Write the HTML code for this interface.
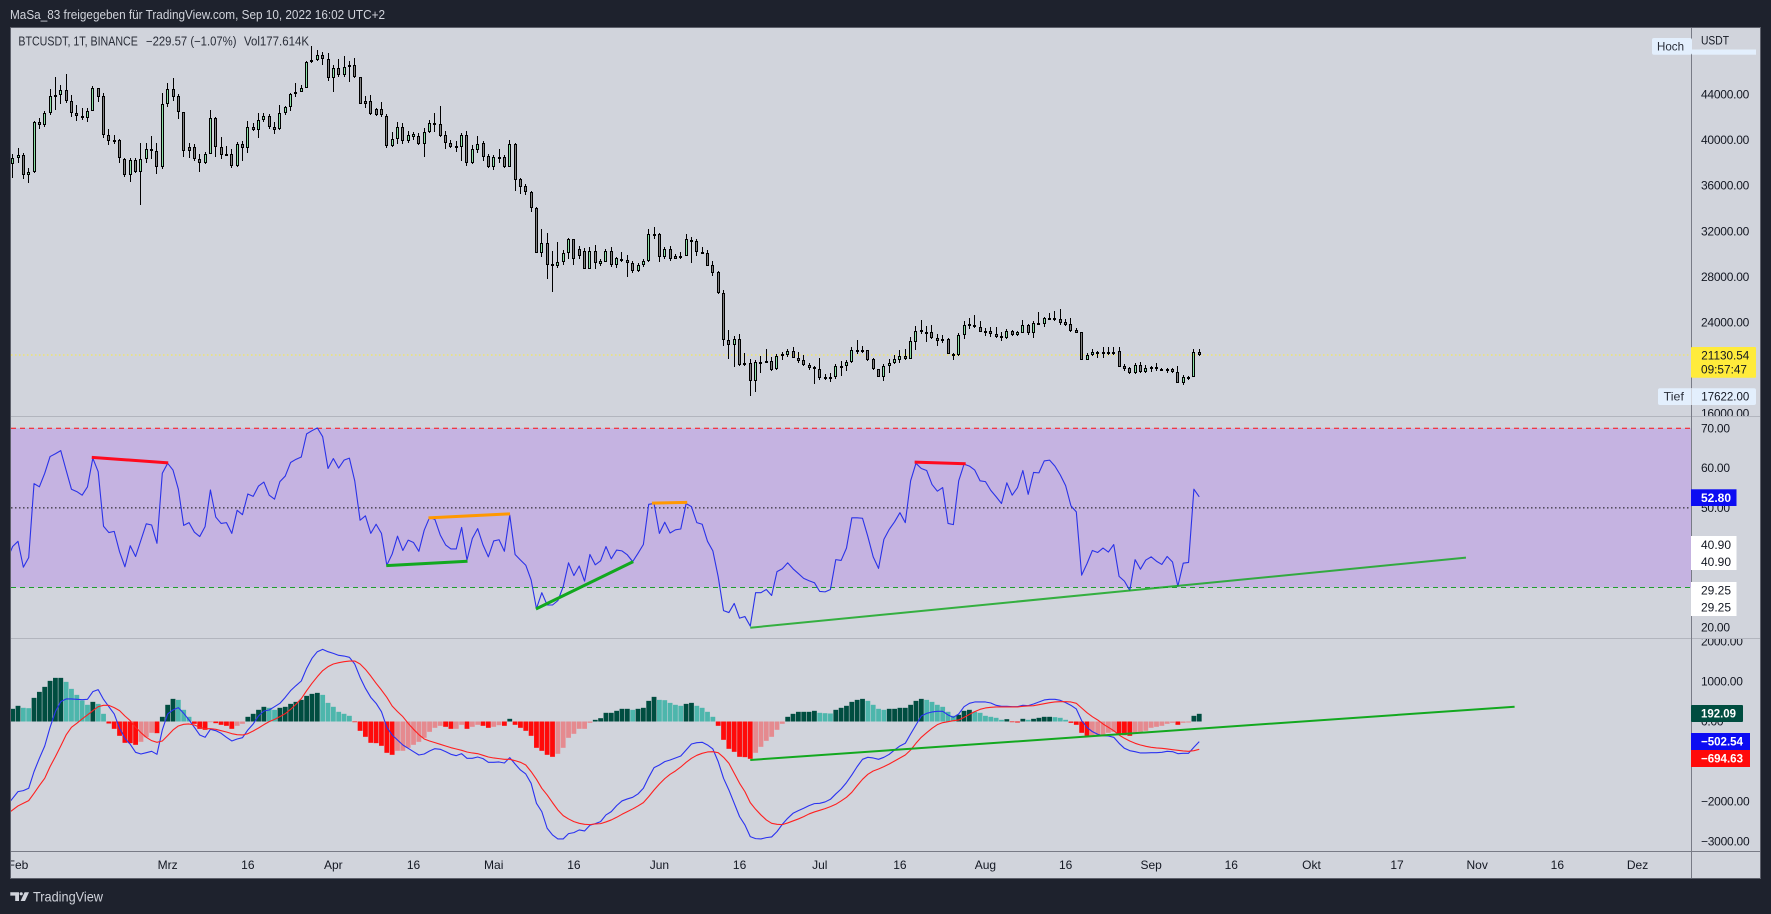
<!DOCTYPE html>
<html lang="de">
<head>
<meta charset="utf-8">
<title>BTCUSDT chart</title>
<style>
html,body{margin:0;padding:0;background:#1e222d;}
svg{display:block;}
text{font-family:"Liberation Sans",sans-serif;}
.ax{font-size:12px;fill:#131722;letter-spacing:-0.25px;}
.tm{font-size:12px;fill:#131722;}
.lb{font-size:12px;}
</style>
</head>
<body>
<svg id="chart" xmlns="http://www.w3.org/2000/svg" width="1771" height="914" viewBox="0 0 1771 914">
  <defs>
    <clipPath id="clip-main"><rect x="11" y="28" width="1680" height="823"/></clipPath>
    <clipPath id="clip-ax-price"><rect x="1692" y="50" width="68" height="366"/></clipPath>
    <clipPath id="clip-ax-rsi"><rect x="1692" y="417" width="68" height="221"/></clipPath>
    <clipPath id="clip-ax-macd"><rect x="1692" y="639" width="68" height="212"/></clipPath>
    <clipPath id="clip-time"><rect x="11" y="852" width="1680" height="27"/></clipPath>
  </defs>
  <rect x="0" y="0" width="1771" height="914" fill="#1e222d"/>
  <text x="10" y="15" dominant-baseline="central" font-size="12.5" fill="#d1d4dc" textLength="375" lengthAdjust="spacingAndGlyphs">MaSa_83 freigegeben für TradingView.com, Sep 10, 2022 16:02 UTC+2</text>
  <rect x="10.5" y="27.5" width="1750" height="851" fill="#d1d4dc" stroke="#5d606b" stroke-width="1"/>
  <g id="plots" clip-path="url(#clip-main)"></g>
  <line x1="11" x2="1760" y1="416.5" y2="416.5" stroke="#b2b5be"/>
  <line x1="11" x2="1760" y1="638.5" y2="638.5" stroke="#b2b5be"/>
  <line x1="11" x2="1760" y1="851.5" y2="851.5" stroke="#787b86"/>
  <line x1="1691.5" x2="1691.5" y1="28" y2="878" stroke="#787b86"/>
  <g id="axes"></g>

  <text x="18.4" y="41.5" dominant-baseline="central" font-size="12.5" fill="#2a2e39" textLength="119.4" lengthAdjust="spacingAndGlyphs">BTCUSDT, 1T, BINANCE</text>
  <text x="146" y="41.5" dominant-baseline="central" font-size="12.5" fill="#2a2e39" textLength="90.5" lengthAdjust="spacingAndGlyphs">−229.57 (−1.07%)</text>
  <text x="244" y="41.5" dominant-baseline="central" font-size="12.5" fill="#2a2e39" textLength="65" lengthAdjust="spacingAndGlyphs">Vol177.614K</text>

  <g>
    <rect x="1652" y="38" width="40" height="16.7" rx="2" fill="#e3effd"/>
    <rect x="1692" y="49.5" width="64" height="5.2" fill="#e3effd"/>
    <text class="lb" x="1657" y="46.7" dominant-baseline="central" fill="#2a2e39" textLength="27" lengthAdjust="spacingAndGlyphs">Hoch</text>
  </g>
  <text class="lb" x="1701" y="40.7" dominant-baseline="central" fill="#131722" textLength="28" lengthAdjust="spacingAndGlyphs">USDT</text>

  <g>
    <rect x="1658" y="388.3" width="98" height="16.7" rx="2" fill="#e3effd"/>
    <line x1="1691.5" x2="1691.5" y1="388.3" y2="405" stroke="#d1d4dc"/>
    <text class="lb" x="1663.7" y="396.7" dominant-baseline="central" fill="#2a2e39" textLength="20.2" lengthAdjust="spacingAndGlyphs">Tief</text>
    <text class="lb" x="1701.3" y="396.7" dominant-baseline="central" fill="#131722" textLength="48" lengthAdjust="spacingAndGlyphs">17622.00</text>
  </g>
  <g>
    <rect x="1691" y="347" width="65" height="30.7" rx="1" fill="#ffeb3b"/>
    <text class="lb" x="1701.3" y="355.7" dominant-baseline="central" fill="#131722" textLength="48" lengthAdjust="spacingAndGlyphs">21130.54</text>
    <text class="lb" x="1701" y="369.3" dominant-baseline="central" fill="#131722" textLength="46" lengthAdjust="spacingAndGlyphs">09:57:47</text>
  </g>
  <g>
    <rect x="1691" y="489.3" width="45.5" height="16.7" fill="#0c0cf2"/>
    <text class="lb" x="1701" y="497.8" dominant-baseline="central" fill="#ffffff" font-weight="bold" textLength="30" lengthAdjust="spacingAndGlyphs">52.80</text>
  </g>
  <g>
    <rect x="1691" y="536" width="45.5" height="34" fill="#ffffff"/>
    <text class="lb" x="1701" y="545" dominant-baseline="central" fill="#131722" textLength="30" lengthAdjust="spacingAndGlyphs">40.90</text>
    <text class="lb" x="1701" y="562" dominant-baseline="central" fill="#131722" textLength="30" lengthAdjust="spacingAndGlyphs">40.90</text>
  </g>
  <g>
    <rect x="1691" y="582" width="45.5" height="34" fill="#ffffff"/>
    <text class="lb" x="1701" y="590.7" dominant-baseline="central" fill="#131722" textLength="30" lengthAdjust="spacingAndGlyphs">29.25</text>
    <text class="lb" x="1701" y="607.7" dominant-baseline="central" fill="#131722" textLength="30" lengthAdjust="spacingAndGlyphs">29.25</text>
  </g>
  <g>
    <rect x="1691" y="705" width="52" height="17" rx="1" fill="#004d40"/>
    <text class="lb" x="1701" y="713.5" dominant-baseline="central" fill="#ffffff" font-weight="bold" textLength="35" lengthAdjust="spacingAndGlyphs">192.09</text>
  </g>
  <g>
    <rect x="1691" y="733" width="59" height="17" fill="#0c0cf2"/>
    <text class="lb" x="1701" y="741.5" dominant-baseline="central" fill="#ffffff" font-weight="bold" textLength="42" lengthAdjust="spacingAndGlyphs">−502.54</text>
  </g>
  <g>
    <rect x="1691" y="750" width="59" height="17" fill="#ff0a0a"/>
    <text class="lb" x="1701" y="758.5" dominant-baseline="central" fill="#ffffff" font-weight="bold" textLength="42" lengthAdjust="spacingAndGlyphs">−694.63</text>
  </g>

  <g fill="#d1d4dc">
    <path d="M10.3 892.2H19V901H15.2V895.6H10.3Z"/>
    <circle cx="21.2" cy="893.8" r="1.6"/>
    <path d="M24.6 892.2H29L25 901H20.6Z"/>
  </g>
  <text x="33" y="896.7" dominant-baseline="central" font-size="14" fill="#d1d4dc" textLength="70" lengthAdjust="spacingAndGlyphs">TradingView</text>
</svg>

<script>
// ---- Candles: first entry is 31 Jan 2022 ----
const candleStartDay = -1;
const opens = [
37880,38470,38670,36910,37240,41570,41370,42360,43860,44000,
44380,43480,42360,42160,41980,42540,44560,43860,40490,40050,
40050,38380,36970,38230,37240,38320,39200,39080,37680,43150,
44470,43860,42450,39370,39370,38380,37970,38760,41950,39370,
38760,38760,37760,39640,39290,41130,40930,41750,42160,41190,
40950,42360,42890,44030,44270,44560,46870,47050,47460,47110,
45470,46320,45760,46400,46580,45530,43420,43420,42710,42710,
42160,39520,40080,41130,39930,40310,40370,39640,40750,41510,
41400,40430,39730,39490,39430,40460,38030,39170,39780,38610,
37620,38500,38520,37680,39640,36590,35950,35420,34040,30060,
30940,29090,28980,29270,30060,31290,30470,30300,28660,30290,
29120,29330,30240,29070,29590,29500,29180,28540,29010,29420,
31790,31760,29770,30410,29800,29770,29860,31260,31110,30150,
30060,29010,28420,26550,22420,22040,22500,20400,20400,18870,
20480,20630,20630,19870,21010,21160,21480,20890,20660,20220,
20040,19870,19220,19220,19220,20130,20130,20480,21540,21510,
21540,20750,19870,19220,20160,20450,20690,21070,20750,22300,
23290,23150,23120,22590,22500,22500,21240,21130,22890,23730,
23730,23560,23210,23210,22940,22800,22590,23210,22860,23090,
23730,23090,23940,23880,24380,24350,24260,24030,23820,23290,
23110,20720,21100,21420,21390,21420,21240,21480,20160,19980,
19520,20250,19630,20070,19870,19870,19900,19930,19660,18700,19190,19220,21360];
const highs = [
38760,39290,38850,37530,41720,41920,42600,44470,45530,44850,
45820,43970,43070,42800,42800,44760,44600,44180,40960,40460,
40080,38400,38410,38410,39790,39730,40370,39790,44120,45000,
45440,44060,42510,39730,39670,38790,39000,42660,42010,40310,
39490,39200,39870,39950,41660,41510,42390,42360,42300,41570,
43100,43040,44120,45000,44850,46990,48280,47930,47720,47640,
46610,47110,47430,46930,47200,45550,43920,43970,42800,43390,
42270,40690,41570,41480,40840,40750,40600,41040,41780,42360,
43010,40780,40020,39900,40660,40810,39580,40370,39930,38790,
38700,39260,38700,40020,39790,36680,36120,35510,34160,32200,
31820,30270,31030,30350,31380,31320,30730,30500,30650,30790,
29530,30410,30590,29770,30150,29890,29390,29180,29530,32200,
32350,31880,30650,30710,30000,30210,31760,31530,31290,30650,
30350,29360,28510,26840,23320,22800,22940,21270,20780,20690,
21040,21620,20980,21190,21420,21630,21830,21420,21100,20400,
20160,20830,19430,19570,20310,20630,20690,21860,22450,21920,
21570,20830,19930,20340,20750,21130,21570,21630,22680,23680,
24200,23680,23730,22940,22880,22590,21270,23030,24140,24410,
24640,24140,23470,23620,23620,23180,23380,23320,23240,24200,
23850,24120,24910,24500,24850,24960,25200,24260,24380,23470,
23120,21330,21630,21480,21860,21800,21860,21860,20310,20100,
20450,20510,20250,20160,20400,19990,20010,20010,20190,19370,19310,21630,21630];
const lows = [
36710,38030,36590,36270,37090,40960,41190,42220,42660,43180,
43240,42010,41720,41780,41600,42530,43390,40170,39550,39670,
38030,36800,36360,37150,34310,37970,38320,37030,37500,42890,
43450,41890,38560,38410,38200,37210,37950,38750,38500,38350,
38700,37590,37620,38200,38910,40840,40220,41570,40960,40520,
40940,42220,42600,43830,44210,44550,46760,46960,46640,45230,
44270,45580,45580,45150,45440,43140,42800,42190,42130,42010,
39290,39370,39640,39670,39790,40020,39580,38560,40600,40750,
40310,39260,39290,38990,38170,37730,37910,38910,38200,37560,
37380,37970,37590,37670,35540,35300,35190,33720,30050,29770,
27830,26690,28740,29040,29530,29040,29530,28650,28640,28650,
28950,29270,28890,28740,29330,28010,28300,28450,28890,29330,
31290,29330,29560,29360,29530,29560,29850,29240,29860,29970,
28920,28100,26510,21950,20800,20100,20190,20190,17550,17900,
19570,20400,19750,19810,20690,20920,20830,20450,20160,19810,
18580,18930,18930,18780,19050,19280,19750,20450,21220,21300,
20630,19810,19190,18870,19570,20340,20450,20690,20740,21570,
22940,22300,22500,21950,22210,21210,20690,21040,22530,23440,
23470,23120,22830,22680,22620,22360,22530,22800,22800,23060,
22910,22650,23850,23590,24310,24140,23760,23680,23150,23080,
20710,20700,21040,20890,20890,21160,21160,20090,19720,19460,
19460,19520,19570,19630,19720,19690,19570,19570,18640,18490,18930,19210,21040];
const closes = [
38470,38670,36910,37240,41570,41370,42360,43860,44000,44380,
43480,42360,42160,41980,42540,44560,43830,40490,39960,39930,
38410,36970,38230,37240,38320,39200,39080,37680,43150,44470,
43800,42450,39080,39080,38380,37970,38760,41920,39370,38730,
38730,37760,39640,39290,41130,40930,41750,42160,41190,40900,
42360,42890,44030,44270,44560,46870,47050,47460,47110,45470,
46320,45760,46400,46580,45530,43150,43150,42270,42250,42190,
39520,40080,41130,39930,40490,40520,39640,40750,41510,41340,
40400,39730,39430,39430,40460,38030,39200,39700,38560,37620,
38500,38550,37680,39640,36500,35920,35420,34020,30060,30940,
29040,28980,29270,30060,31320,29530,29830,28660,30290,29210,
29390,30270,29040,29650,29500,29180,28540,29010,29420,31760,
31730,29770,30410,29590,29590,29860,31290,31110,30150,30060,
28980,28360,26550,22420,22040,22500,20280,20280,18870,20480,
20450,20450,19810,21040,21190,21480,20890,20600,20220,19960,
19870,19080,19080,19110,20130,20190,20480,21540,21480,21570,
20690,19870,19220,20160,20450,20750,21070,20750,22330,23270,
23120,23090,22590,22360,22390,21240,21160,22890,23730,23820,
23560,23180,23150,22940,22740,22590,23210,22860,23120,23730,
23090,23910,23880,24350,24320,24230,23910,23790,23240,23090,
20720,21100,21420,21330,21330,21240,21420,20100,19900,19520,
20250,19630,19950,19870,20040,19750,19720,19630,18700,19220,19170,21360,21130];
const lastPrice = 21130.54;

// ---- RSI: first entry is 30 Jan 2022 ----
const rsiStartDay = -2;
const rsiValues = [37.2,
40.3,41.6,35.1,37.5,56.1,55.3,58.7,62.9,63.6,64.4,
59.5,54.7,54.1,53.2,55.3,62.5,59.1,45.4,43.8,44.1,
39.0,35.2,40.5,37.8,41.9,46.0,45.7,41.1,58.7,61.2,
59.5,54.7,45.6,46.3,43.9,42.8,45.3,54.5,47.7,46.1,
46.3,43.6,49.4,48.3,53.5,52.9,55.5,56.5,53.2,52.2,
56.6,58.0,61.4,62.2,62.8,68.6,69.4,70.1,67.9,59.9,
62.4,60.0,62.0,62.5,56.8,46.9,48.0,43.6,45.9,43.6,
35.6,38.4,42.9,39.3,41.9,41.3,39.1,44.4,47.6,47.1,
43.2,40.7,39.7,39.7,45.1,36.9,42.3,44.8,40.7,37.7,
41.7,42.0,39.1,48.2,38.3,36.9,35.6,31.9,24.7,28.7,
25.6,25.6,26.7,30.2,36.2,33.0,35.4,31.6,38.3,35.7,
36.7,40.3,37.2,39.4,39.2,38.2,36.5,38.6,40.8,50.9,
51.1,43.6,46.4,43.7,44.5,44.7,51.1,50.3,46.3,45.9,
41.6,39.2,32.7,24.2,23.7,26.0,22.3,22.7,20.3,28.7,
28.7,29.5,28.0,34.0,34.7,36.2,34.7,33.5,32.3,31.7,
31.2,29.0,28.9,29.5,37.0,36.8,39.9,47.5,47.5,47.4,
42.8,37.7,34.8,42.1,44.6,46.5,48.8,46.3,56.8,61.2,
59.9,59.4,55.9,54.2,55.1,46.1,45.8,56.8,61.0,60.5,
59.5,56.8,56.6,54.4,52.8,51.1,56.3,53.2,55.1,59.4,
53.4,58.9,58.8,61.8,62.0,60.5,58.3,55.6,50.5,49.0,
33.1,36.0,39.3,38.8,39.9,38.9,40.8,32.8,31.6,29.3,
37.0,34.6,36.9,37.7,36.6,35.8,37.8,36.4,30.3,36.1,36.3,54.7,52.8];

// ---- MACD line and signal: first entry is 30 Jan 2022 ----
const macdStartDay = -2;
const macdLine = [-2086,
-1920,-1753,-1728,-1670,-1253,-920,-612,-145,246,496,
563,563,554,546,554,746,796,554,371,188,
-170,-420,-570,-770,-812,-779,-745,-820,-212,188,
288,346,204,38,-145,-337,-395,-195,-229,-295,
-395,-487,-437,-404,-212,-62,138,263,288,371,
454,604,771,896,1012,1329,1579,1745,1804,1745,
1704,1654,1637,1604,1437,1104,829,604,454,246,
-145,-337,-462,-587,-670,-754,-837,-812,-737,-679,
-695,-754,-820,-854,-804,-920,-920,-887,-928,-1020,
-1020,-1012,-1037,-904,-1062,-1212,-1312,-1545,-2045,-2253,
-2669,-2836,-2936,-2936,-2803,-2778,-2711,-2736,-2594,-2553,
-2503,-2336,-2253,-2103,-1986,-1936,-1895,-1811,-1670,-1395,
-1153,-1087,-1003,-962,-912,-862,-712,-562,-529,-520,
-587,-687,-1003,-1420,-1712,-2045,-2378,-2586,-2878,-2928,
-2936,-2903,-2886,-2753,-2570,-2420,-2295,-2228,-2170,-2103,
-2053,-2045,-2011,-1945,-1811,-1687,-1528,-1337,-1128,-945,
-895,-912,-945,-895,-820,-712,-612,-545,-312,-87,
138,204,238,254,254,163,104,188,371,454,
488,488,488,463,404,379,379,371,371,404,
396,438,488,538,554,554,529,471,404,313,
21,-145,-254,-320,-354,-362,-395,-545,-670,-729,
-754,-787,-787,-779,-779,-770,-745,-754,-804,-795,-795,-645,-502.5];
const macdSignal = [-2311,
-2211,-2111,-2045,-1978,-1795,-1603,-1420,-1128,-878,-612,
-337,-145,-46,63,163,271,371,404,404,346,
271,138,21,-145,-279,-395,-479,-520,-487,-354,
-212,-112,-70,-62,-87,-145,-179,-179,-195,-229,
-262,-304,-329,-337,-304,-237,-162,-79,-4,54,
121,196,304,429,571,771,954,1121,1271,1371,
1437,1471,1496,1512,1512,1437,1304,1137,954,787,
604,388,246,121,-46,-195,-329,-437,-487,-529,
-570,-612,-654,-687,-720,-762,-787,-804,-845,-887,
-912,-928,-945,-945,-979,-1020,-1087,-1253,-1445,-1670,
-1836,-2028,-2211,-2353,-2436,-2503,-2545,-2570,-2578,-2561,
-2553,-2511,-2461,-2395,-2320,-2253,-2186,-2111,-2028,-1878,
-1712,-1562,-1428,-1320,-1237,-1137,-1020,-920,-845,-795,
-762,-754,-779,-895,-1045,-1295,-1545,-1753,-2028,-2195,
-2336,-2461,-2545,-2570,-2578,-2536,-2486,-2436,-2378,-2311,
-2261,-2220,-2178,-2128,-2070,-1986,-1895,-1770,-1603,-1445,
-1320,-1237,-1187,-1128,-1062,-987,-912,-837,-712,-545,
-395,-279,-170,-79,-29,-4,21,38,104,179,
246,304,338,354,363,363,363,363,363,379,
388,396,421,446,471,488,496,496,488,454,
338,221,121,38,-62,-145,-229,-337,-420,-487,
-545,-587,-620,-645,-662,-670,-687,-704,-720,-737,-745,-729,-694.6];

// ---- MACD histogram: first entry is 31 Jan 2022 ----
const histStartDay = -1;
const histValues = [
317,392,342,333,591,741,866,1016,1091,1091,
991,816,666,525,417,491,441,192,-50,-183,
-358,-533,-541,-583,-508,-392,-283,-292,117,417,
566,541,292,117,-58,-183,-208,-17,-42,-83,
-108,-183,-108,-58,117,192,292,367,342,292,
342,367,441,491,541,641,691,716,666,466,
367,242,192,142,-17,-233,-383,-533,-541,-608,
-783,-833,-733,-733,-658,-583,-508,-408,-258,-158,
-108,-133,-183,-183,-83,-183,-133,-83,-108,-158,
-133,-92,-108,67,-83,-158,-233,-358,-658,-733,
-833,-883,-808,-658,-408,-308,-183,-183,-33,42,
83,217,217,267,317,317,292,317,342,516,
616,541,533,466,417,392,441,466,392,342,
242,117,-108,-458,-683,-758,-883,-891,-933,-783,
-633,-483,-383,-208,-58,117,192,242,242,242,
267,217,208,200,292,342,392,491,541,566,
516,417,317,292,317,317,342,342,417,516,
566,541,491,417,367,242,142,167,267,292,
242,217,142,117,92,42,58,-17,-25,67,
42,67,92,117,117,108,92,42,-33,-83,
-283,-358,-358,-358,-333,-283,-258,-333,-342,-358,
-308,-258,-233,-158,-133,-108,-58,-33,-83,-33,-25,142,192.09];

// ---- Axis ticks ----
const priceTicks = [44000,40000,36000,32000,28000,24000,20000,16000];
const rsiTicks = [70,60,50,40,30,20];
const macdTicks = [2000,1000,0,-1000,-2000,-3000];
const timeLabels = ['Feb','Mrz','16','Apr','16','Mai','16','Jun','16','Jul','16','Aug','16','Sep','16','Okt','17','Nov','16','Dez'];
const timeDays = [0,28,43,59,74,89,104,120,135,150,165,181,196,212,227,242,258,273,288,303];

// ---- Drawn trend lines [day, value, day, value] ----
const rsiBearLines = [[13.8,62.7,28.1,61.3],[167.75,61.5,177.3,61.1]];
const rsiHiddenLines = [[76.8,47.5,92.05,48.5],[118.6,51.2,125.2,51.4]];
const rsiBullLines = [[68.9,35.5,84.1,36.6],[96.9,24.6,115.1,36.5]];
const rsiLongLine = [137.0,19.9,270.9,37.5];
const macdLongLine = [137.0,-962,280.0,370];

// ---- Scales ----
const xDay = d => 18 + 5.345 * d;
const yPrice = p => 94.7 + (44000 - p) * 0.01138;
const yRsi = r => 428.3 + (70 - r) * 3.98;
const yMacd = m => 721.5 - m * 0.04;

const NS = 'http://www.w3.org/2000/svg';
const plots = document.getElementById('plots');
const axes = document.getElementById('axes');

function mk(tag, parent, attrs) {
  const el = document.createElementNS(NS, tag);
  for (const k in attrs) el.setAttribute(k, attrs[k]);
  parent.appendChild(el);
  return el;
}
function polyPoints(values, startDay, yFn) {
  return values.map((v, i) => xDay(startDay + i).toFixed(2) + ',' + yFn(v).toFixed(2)).join(' ');
}
function fmt(v) {
  return (v < 0 ? '−' : '') + Math.abs(v).toFixed(2);
}

// RSI band and reference lines
const band = mk('rect', plots, {x: 11, y: yRsi(70), width: 1680, height: yRsi(30) - yRsi(70), fill: '#c5b3e1'});



const rsi70 = mk('line', plots, {x1: 11, x2: 1691, y1: yRsi(70), y2: yRsi(70), stroke: '#ff1010', 'stroke-dasharray': '5 4'});



const rsi50 = mk('line', plots, {x1: 11, x2: 1691, y1: yRsi(50), y2: yRsi(50), stroke: '#111111', 'stroke-dasharray': '1.5 2.5'});



const rsi30 = mk('line', plots, {x1: 11, x2: 1691, y1: yRsi(30), y2: yRsi(30), stroke: '#1f9d2e', 'stroke-dasharray': '5 4'});



// Last price line
const priceLine = mk('line', plots, {x1: 11, x2: 1691, y1: yPrice(lastPrice), y2: yPrice(lastPrice), stroke: '#ffeb3b', 'stroke-dasharray': '1.5 2.5'});



// Candles
opens.forEach((o, i) => {
  const c = closes[i];
  const cx = Math.floor(xDay(candleStartDay + i));
  const up = c >= o;
  const top = Math.round(yPrice(Math.max(o, c)));
  let bottom = Math.round(yPrice(Math.min(o, c)));
  if (bottom - top < 2) bottom = top + 2;
  const wickTop = Math.round(yPrice(highs[i]));
  const wickBottom = Math.round(yPrice(lows[i]));

  const wick = mk('rect', plots, {x: cx, y: wickTop, width: 1, height: wickBottom - wickTop, fill: '#000000', 'shape-rendering': 'crispEdges'});
  
  

  const body = mk('rect', plots, {x: cx - 1, y: top, width: 3, height: bottom - top, fill: '#000000', 'shape-rendering': 'crispEdges'});
  
  

  if (bottom - top > 2) {
    const inner = mk('rect', plots, {x: cx, y: top + 1, width: 1, height: bottom - top - 2, fill: up ? '#8be0a5' : '#808080', 'shape-rendering': 'crispEdges'});
    
    
  }
});

// RSI line
const rsiLine = mk('polyline', plots, {points: polyPoints(rsiValues, rsiStartDay, yRsi), fill: 'none', stroke: '#2a32e8', 'stroke-width': 1.1, 'stroke-linejoin': 'round'});



// Trend lines
function trend(line, yFn, color, width) {
  return mk('line', plots, {x1: xDay(line[0]), y1: yFn(line[1]), x2: xDay(line[2]), y2: yFn(line[3]), stroke: color, 'stroke-width': width});
}
rsiBearLines.forEach(l => {
  const t = trend(l, yRsi, '#ff0a1e', 3);
  
  
});
rsiHiddenLines.forEach(l => {
  const t = trend(l, yRsi, '#ff9800', 3);
  
  
});
rsiBullLines.forEach(l => {
  const t = trend(l, yRsi, '#12a81f', 3);
  
  
});
const rsiLong = trend(rsiLongLine, yRsi, '#12a81f', 2);
rsiLong.setAttribute('opacity', '0.82');



// MACD histogram
histValues.forEach((v, i) => {
  const prev = i > 0 ? histValues[i - 1] : v;
  let color;
  if (v >= 0) color = v >= prev ? '#004d40' : '#4db6ac';
  else color = v < prev ? '#ff0a0a' : '#e58a8f';
  const cx = xDay(histStartDay + i);
  const y0 = yMacd(0);
  const y1 = yMacd(v);
  const bar = mk('rect', plots, {x: cx - 2.4, y: Math.min(y0, y1), width: 4.8, height: Math.abs(y1 - y0), fill: color});
  
  
});

// MACD lines
const macdPath = mk('polyline', plots, {points: polyPoints(macdLine, macdStartDay, yMacd), fill: 'none', stroke: '#2a32f0', 'stroke-width': 1.1, 'stroke-linejoin': 'round'});



const signalPath = mk('polyline', plots, {points: polyPoints(macdSignal, macdStartDay, yMacd), fill: 'none', stroke: '#ff2020', 'stroke-width': 1.1, 'stroke-linejoin': 'round'});



const macdLong = trend(macdLongLine, yMacd, '#12a81f', 2);



// Axis tick labels
function tickGroup(clip) {
  return mk('g', axes, {'clip-path': 'url(#' + clip + ')'});
}
const priceG = tickGroup('clip-ax-price');
priceTicks.forEach(t => {
  const el = mk('text', priceG, {class: 'ax', x: 1701, y: yPrice(t), 'dominant-baseline': 'central'});
  el.textContent = fmt(t);
  
  
});
const rsiG = tickGroup('clip-ax-rsi');
rsiTicks.forEach(t => {
  const el = mk('text', rsiG, {class: 'ax', x: 1701, y: yRsi(t), 'dominant-baseline': 'central'});
  el.textContent = fmt(t);
  
  
});
const macdG = tickGroup('clip-ax-macd');
macdTicks.forEach(t => {
  const el = mk('text', macdG, {class: 'ax', x: 1701, y: yMacd(t), 'dominant-baseline': 'central'});
  el.textContent = fmt(t);
  
  
});
const timeG = tickGroup('clip-time');
timeLabels.forEach((lab, i) => {
  const el = mk('text', timeG, {class: 'tm', x: xDay(timeDays[i]), y: 865, 'text-anchor': 'middle', 'dominant-baseline': 'central'});
  el.textContent = lab;
  
  
});
</script>
</body>
</html>
